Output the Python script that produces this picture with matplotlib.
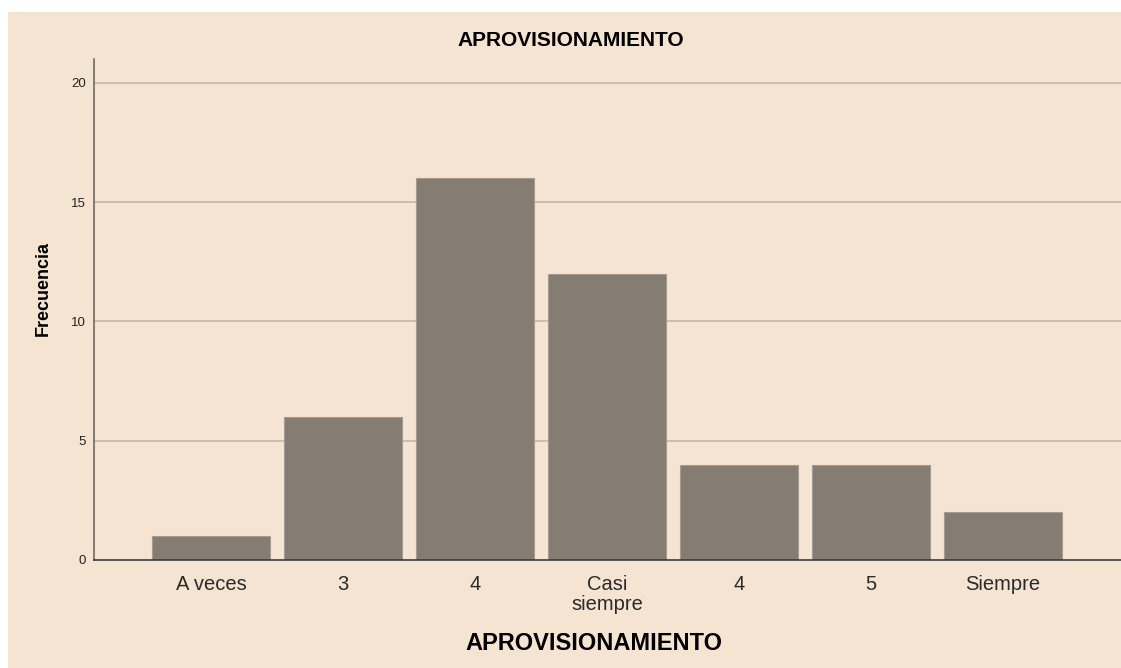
import matplotlib
matplotlib.use("Agg")
import matplotlib.pyplot as plt
from matplotlib.patches import Rectangle

categories = ["A veces", "3", "4", "Casi\nsiempre", "4", "5", "Siempre"]
frecuencia = [1, 6, 16, 12, 4, 4, 2]
y_ticks = [0, 5, 10, 15, 20]
title = "APROVISIONAMIENTO"
xlabel = "APROVISIONAMIENTO"
ylabel = "Frecuencia"

plt.rcParams['font.family'] = ['Liberation Sans', 'DejaVu Sans']

W, H = 1121, 668
fig = plt.figure(figsize=(W / 100, H / 100), dpi=100, facecolor="white")
bg = "#F5E4D2"
fig.patches.append(Rectangle((8 / W, 0), 1 - 8 / W, 1 - 12 / H, transform=fig.transFigure,
                             facecolor=bg, edgecolor="none", zorder=-5))

ax = fig.add_axes([94 / W, (H - 560) / H, 1 - 94 / W, (560 - 59) / H])
ax.set_zorder(2)
ax.set_facecolor(bg)
x = list(range(len(categories)))
ax.bar(x, frecuencia, width=0.894, color="#857D72", edgecolor="#A39C91", linewidth=0.8, zorder=3)
ax.set_xlim(-0.886, 6.894)
ax.set_ylim(0, 21.0)
ax.set_yticks(y_ticks)
ax.set_yticklabels([str(v) for v in y_ticks], fontsize=9.5, color="#222222")
ax.set_xticks(x)
ax.set_xticklabels(categories, fontsize=14.5, color="#2A2A2A", linespacing=1.05)
ax.tick_params(axis="both", length=0)
ax.tick_params(axis="x", pad=11)
ax.tick_params(axis="y", pad=6)
for v in y_ticks[1:]:
    ax.axhline(v, color="#C6B6A4", linewidth=1.2, zorder=1)
for s in ["top", "right"]:
    ax.spines[s].set_visible(False)
ax.spines["left"].set_color("#6E6A64")
ax.spines["left"].set_linewidth(1.2)
ax.spines["bottom"].set_color("#3A3A3A")
ax.spines["bottom"].set_linewidth(1.2)
ax.spines["bottom"].set_zorder(4)

fig.text(571 / W, 1 - 41 / H, title, ha="center", va="center", fontsize=15, fontweight="bold")
fig.text(594 / W, 1 - 644 / H, xlabel, ha="center", va="center", fontsize=17, fontweight="bold")
fig.text(43 / W, 1 - 288 / H, ylabel, ha="center", va="center", rotation=90, fontsize=13, fontweight="bold")

fig.savefig("out.png", dpi=100, facecolor="white")
